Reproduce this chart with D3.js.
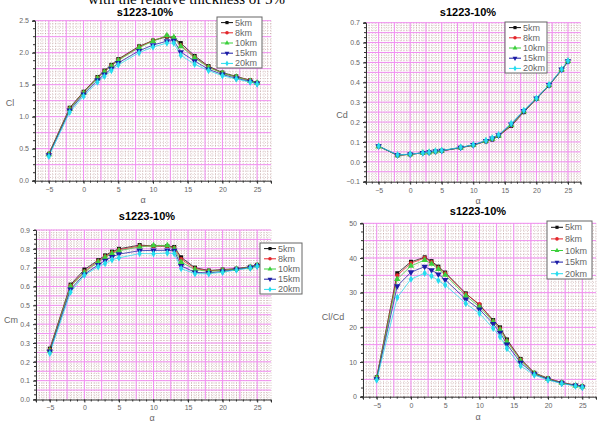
<!DOCTYPE html>
<meta charset="utf-8">
<style>
  body { margin: 0; background: #fff; }
  svg { display: block; font-family: Arial, "Liberation Sans", sans-serif; }
</style>
<body>
<div id="chart"></div>
<script src="https://cdn.jsdelivr.net/npm/d3@7"></script>
<script>
// angle of attack, shared by all four plots
const alpha = [-5, -2, 0, 2, 3, 4, 5, 8, 10, 12, 13, 14, 16, 18, 20, 22, 24, 25];
const seriesNames = ["5km", "8km", "10km", "15km", "20km"];
const seriesColors = ["#111111", "#e3262b", "#3ccf3c", "#1c1ca6", "#26dcee"];

// one row per altitude, same order as seriesNames
const clValues = [
  [0.42, 1.14, 1.39, 1.62, 1.72, 1.81, 1.90, 2.10, 2.19, 2.25, 2.23, 2.15, 1.95, 1.79, 1.69, 1.63, 1.57, 1.53],
  [0.42, 1.13, 1.38, 1.61, 1.71, 1.80, 1.89, 2.09, 2.19, 2.26, 2.23, 2.12, 1.93, 1.78, 1.68, 1.62, 1.57, 1.53],
  [0.41, 1.12, 1.37, 1.60, 1.70, 1.79, 1.88, 2.08, 2.18, 2.27, 2.24, 2.10, 1.92, 1.77, 1.68, 1.62, 1.56, 1.53],
  [0.40, 1.10, 1.35, 1.57, 1.66, 1.75, 1.84, 2.03, 2.12, 2.18, 2.19, 2.01, 1.87, 1.74, 1.66, 1.60, 1.55, 1.52],
  [0.38, 1.07, 1.32, 1.54, 1.63, 1.72, 1.81, 2.00, 2.09, 2.15, 2.15, 1.96, 1.82, 1.72, 1.64, 1.59, 1.54, 1.51]
];
const cdValues = [
  [0.078, 0.033, 0.038, 0.045, 0.048, 0.053, 0.055, 0.071, 0.084, 0.103, 0.112, 0.130, 0.180, 0.250, 0.316, 0.384, 0.462, 0.505],
  [0.078, 0.033, 0.038, 0.045, 0.048, 0.053, 0.055, 0.071, 0.084, 0.104, 0.114, 0.131, 0.182, 0.252, 0.317, 0.385, 0.463, 0.506],
  [0.078, 0.033, 0.038, 0.045, 0.048, 0.053, 0.056, 0.072, 0.085, 0.105, 0.116, 0.132, 0.185, 0.254, 0.318, 0.386, 0.464, 0.507],
  [0.079, 0.034, 0.038, 0.045, 0.048, 0.053, 0.056, 0.072, 0.085, 0.106, 0.118, 0.134, 0.189, 0.256, 0.319, 0.387, 0.465, 0.507],
  [0.079, 0.035, 0.039, 0.045, 0.048, 0.054, 0.057, 0.073, 0.086, 0.107, 0.120, 0.136, 0.193, 0.259, 0.320, 0.388, 0.466, 0.508]
];
const cmValues = [
  [0.27, 0.61, 0.69, 0.74, 0.765, 0.785, 0.80, 0.82, 0.815, 0.815, 0.81, 0.755, 0.70, 0.685, 0.69, 0.695, 0.705, 0.715],
  [0.265, 0.605, 0.68, 0.735, 0.76, 0.78, 0.795, 0.815, 0.815, 0.815, 0.805, 0.745, 0.695, 0.683, 0.688, 0.693, 0.703, 0.713],
  [0.26, 0.60, 0.675, 0.73, 0.755, 0.775, 0.79, 0.81, 0.818, 0.818, 0.80, 0.73, 0.69, 0.68, 0.685, 0.692, 0.702, 0.712],
  [0.255, 0.585, 0.665, 0.715, 0.738, 0.758, 0.772, 0.79, 0.792, 0.792, 0.79, 0.71, 0.675, 0.672, 0.68, 0.69, 0.70, 0.71],
  [0.245, 0.57, 0.66, 0.705, 0.722, 0.742, 0.752, 0.775, 0.774, 0.778, 0.775, 0.695, 0.668, 0.668, 0.676, 0.688, 0.698, 0.708]
];
const ldValues = [
  [5.6, 35.6, 38.9, 40.2, 39.1, 37.5, 35.8, 29.8, 26.4, 22.1, 20.0, 16.5, 10.9, 6.9, 5.3, 4.1, 3.3, 3.0],
  [5.5, 35.0, 38.5, 40.0, 38.8, 37.2, 35.6, 29.6, 26.7, 21.8, 19.6, 16.2, 10.7, 6.8, 5.2, 4.1, 3.3, 3.0],
  [5.4, 33.9, 37.7, 39.4, 38.3, 36.8, 35.1, 29.1, 25.9, 21.6, 19.3, 15.9, 10.4, 6.7, 5.1, 4.0, 3.2, 2.9],
  [5.1, 31.9, 35.9, 37.5, 36.5, 35.3, 33.7, 28.1, 25.2, 21.0, 18.5, 15.1, 9.8, 6.5, 5.0, 3.9, 3.2, 2.8],
  [4.8, 28.6, 33.9, 35.6, 34.8, 33.5, 32.2, 26.9, 24.0, 19.7, 17.3, 13.9, 8.9, 6.25, 4.8, 3.8, 3.1, 2.7]
];
const xTickValues = [-5, 0, 5, 10, 15, 20, 25];

const width = 613, height = 421;

const svg = d3.select("#chart").append("svg")
    .attr("width", width)
    .attr("height", height);

// caption of the page, cut by the top edge
svg.append("text")
    .attr("x", 88)
    .attr("y", 3.5)
    .style("font-family", "'Liberation Serif', 'Times New Roman', serif")
    .style("font-size", "15px")
    .text("with the relative thickness of 5%");

const panels = [
  { values: clValues, yLabel: "Cl", left: 35, right: 271, top: 20.7, bottom: 180.7,
    yDomain: [0, 2.5], yStep: 0.5, yPink: 0.25, yMinor: 0.05, fmt: d3.format(".1f"),
    title: [145, 16], yLab: [10, 106], xLab: [143, 203], legend: [217, 17, 45, 51] },
  { values: cdValues, yLabel: "Cd", left: 366, right: 580.6, top: 22.7, bottom: 181.7,
    yDomain: [-0.1, 0.7], yStep: 0.1, yPink: 0.05, yMinor: 0.0125, fmt: d3.format(".1f"),
    title: [468, 16], yLab: [342, 118], xLab: [478, 204], legend: [505, 22, 42, 51] },
  { values: cmValues, yLabel: "Cm", left: 36, right: 271, top: 230, bottom: 399.5,
    yDomain: [0, 0.9], yStep: 0.1, yPink: 0.05, yMinor: 0.0125, fmt: d3.format(".1f"),
    title: [147, 220], yLab: [11, 323], xLab: [152, 421], legend: [260, 243, 42, 51] },
  { values: ldValues, yLabel: "Cl/Cd", left: 363, right: 596, top: 223.3, bottom: 396.7,
    yDomain: [0, 50], yStep: 10, yPink: 5, yMinor: 1, fmt: d3.format("d"),
    title: [478, 215], yLab: [333, 320], xLab: [478, 420], legend: [547, 221, 45, 58] }
];

function markerPath(i, size) {
  const types = [d3.symbolSquare, d3.symbolCircle, d3.symbolTriangle, d3.symbolTriangle, d3.symbolDiamond];
  const sizes = [16, 14, 18, 18, 16];
  return d3.symbol().type(types[i]).size(size || sizes[i])();
}

function steps(lo, hi, step) {
  const n = Math.round((hi - lo) / step);
  return d3.range(n + 1).map(k => +(lo + k * step).toFixed(6));
}

function drawPanel(p) {
  const x = d3.scaleLinear().domain([-7, 27]).range([p.left, p.right]);
  const y = d3.scaleLinear().domain(p.yDomain).range([p.bottom, p.top]);
  const g = svg.append("g");

  // minor dotted grid
  const grid = g.append("g");
  grid.selectAll(".vminor")
    .data(steps(-7, 27, 0.5))
    .enter().append("line")
      .attr("x1", d => x(d)).attr("x2", d => x(d))
      .attr("y1", p.top).attr("y2", p.bottom)
      .style("stroke", "#8a4a4a")
      .style("stroke-width", 0.6)
      .style("stroke-dasharray", "1,1.5")
      .style("opacity", 0.55);
  grid.selectAll(".hminor")
    .data(steps(p.yDomain[0], p.yDomain[1], p.yMinor))
    .enter().append("line")
      .attr("x1", p.left).attr("x2", p.right)
      .attr("y1", d => y(d)).attr("y2", d => y(d))
      .style("stroke", "#8a4a4a")
      .style("stroke-width", 0.6)
      .style("stroke-dasharray", "1,1.5")
      .style("opacity", 0.55);
  // pink major grid
  grid.selectAll(".vpink")
    .data(steps(-5, 25, 2.5))
    .enter().append("line")
      .attr("x1", d => x(d)).attr("x2", d => x(d))
      .attr("y1", p.top).attr("y2", p.bottom)
      .style("stroke", "#f28ef2")
      .style("stroke-width", 1);
  grid.selectAll(".hpink")
    .data(steps(p.yDomain[0], p.yDomain[1], p.yPink).slice(1))
    .enter().append("line")
      .attr("x1", p.left).attr("x2", p.right)
      .attr("y1", d => y(d)).attr("y2", d => y(d))
      .style("stroke", "#f28ef2")
      .style("stroke-width", 1);

  // axes
  const xAxis = g.append("g")
      .attr("transform", "translate(0," + p.bottom + ")")
      .call(d3.axisBottom(x).tickValues(xTickValues).tickSize(3).tickPadding(3).tickFormat(d3.format("d")));
  xAxis.append("g").selectAll("line")
    .data(steps(-7, 27, 1))
    .enter().append("line")
      .attr("x1", d => x(d)).attr("x2", d => x(d))
      .attr("y1", 0).attr("y2", 2)
      .style("stroke", "#333");
  const yAxis = g.append("g")
      .attr("transform", "translate(" + p.left + ",0)")
      .call(d3.axisLeft(y).tickValues(steps(p.yDomain[0], p.yDomain[1], p.yStep)).tickSize(3).tickPadding(3).tickFormat(p.fmt));
  yAxis.append("g").selectAll("line")
    .data(steps(p.yDomain[0], p.yDomain[1], p.yStep / 4))
    .enter().append("line")
      .attr("x1", 0).attr("x2", -2)
      .attr("y1", d => y(d)).attr("y2", d => y(d))
      .style("stroke", "#333");
  [xAxis, yAxis].forEach(a => {
    a.select(".domain").style("stroke", "#333");
    a.selectAll(".tick line").style("stroke", "#333");
    a.selectAll("text").style("fill", "#666").style("font-size", "7px");
  });

  // series
  const line = d3.line().x((d, i) => x(alpha[i])).y(d => y(d));
  p.values.forEach((vals, s) => {
    g.append("path")
      .datum(vals)
      .attr("d", line)
      .style("fill", "none")
      .style("stroke", seriesColors[s])
      .style("stroke-width", 1)
      .style("opacity", 0.75);
  });
  p.values.forEach((vals, s) => {
    g.selectAll(".m" + s)
      .data(vals)
      .enter().append("path")
        .attr("d", markerPath(s))
        .attr("transform", (d, i) => "translate(" + x(alpha[i]) + "," + y(d) + ")" + (s === 3 ? " rotate(180)" : ""))
        .style("fill", seriesColors[s]);
  });

  // texts
  svg.append("text")
      .attr("x", p.title[0]).attr("y", p.title[1])
      .attr("text-anchor", "middle")
      .style("font-weight", "bold")
      .style("font-size", "11px")
      .text("s1223-10%");
  svg.append("text")
      .attr("x", p.yLab[0]).attr("y", p.yLab[1])
      .attr("text-anchor", "middle")
      .style("fill", "#666")
      .style("font-size", "9px")
      .text(p.yLabel);
  svg.append("text")
      .attr("x", p.xLab[0]).attr("y", p.xLab[1])
      .attr("text-anchor", "middle")
      .style("fill", "#666")
      .style("font-size", "9px")
      .text("α");

  // legend
  const [lx, ly, lw, lh] = p.legend;
  const legend = svg.append("g").attr("transform", "translate(" + lx + "," + ly + ")");
  legend.append("rect")
      .attr("width", lw).attr("height", lh)
      .style("fill", "#fff")
      .style("stroke", "#666")
      .style("stroke-width", 1);
  const row = lh / 5;
  seriesNames.forEach((name, s) => {
    const cy = row * (s + 0.5) + 0.5;
    legend.append("line")
        .attr("x1", 4).attr("x2", 16)
        .attr("y1", cy).attr("y2", cy)
        .style("stroke", seriesColors[s]);
    legend.append("path")
        .attr("d", markerPath(s, 10))
        .attr("transform", "translate(10," + cy + ")" + (s === 3 ? " rotate(180)" : ""))
        .style("fill", seriesColors[s]);
    legend.append("text")
        .attr("x", 18).attr("y", cy + 3)
        .style("fill", "#666")
        .style("font-size", "9px")
        .text(name);
  });
}

panels.forEach(drawPanel);
</script>
</body>
